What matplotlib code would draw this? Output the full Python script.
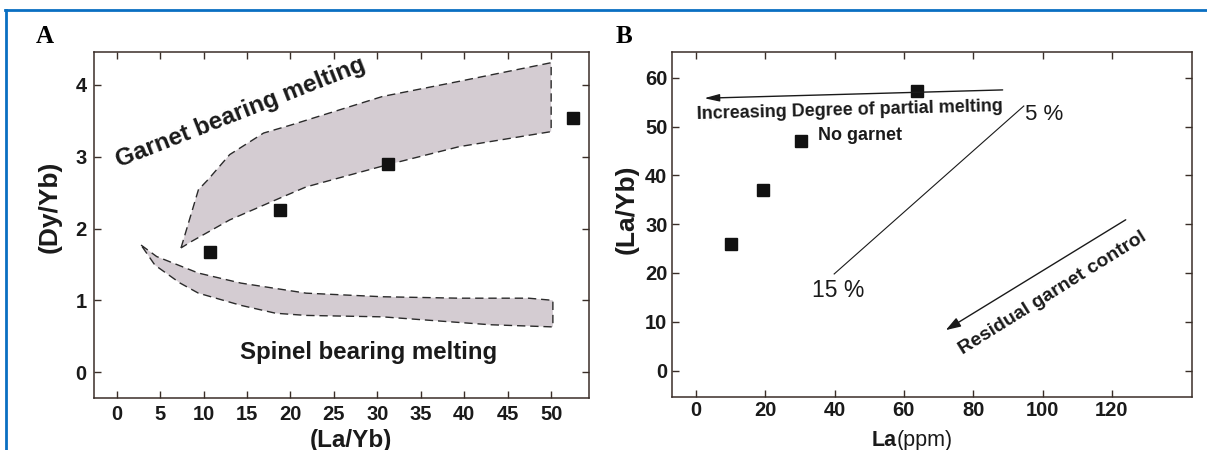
import matplotlib
matplotlib.use("Agg")
import matplotlib.pyplot as plt
import matplotlib.transforms as mtransforms
from matplotlib.lines import Line2D

# ---------------- data ----------------
# Panel A
a_la_yb = [10.7, 18.8, 31.2, 52.5]
a_dy_yb = [1.67, 2.26, 2.90, 3.54]

garnet_upper_x = [7.4, 9.4, 10.5, 13.0, 16.9, 20.0, 30.6, 39.4, 50.0]
garnet_upper_y = [1.73, 2.54, 2.68, 3.03, 3.33, 3.44, 3.84, 4.05, 4.31]
garnet_lower_x = [50.0, 39.4, 31.2, 21.8, 18.7, 13.0, 8.6, 7.4]
garnet_lower_y = [3.35, 3.14, 2.89, 2.58, 2.42, 2.12, 1.82, 1.73]

spinel_upper_x = [2.8, 4.6, 9.4, 14.3, 21.8, 30.6, 39.4, 47.4, 50.2]
spinel_upper_y = [1.77, 1.61, 1.38, 1.24, 1.10, 1.05, 1.03, 1.03, 1.00]
spinel_lower_x = [50.2, 43.0, 30.6, 21.8, 18.3, 14.3, 9.4, 7.3, 4.4, 2.8]
spinel_lower_y = [0.63, 0.66, 0.77, 0.79, 0.82, 0.93, 1.10, 1.24, 1.49, 1.77]

a_xticks = [0, 5, 10, 15, 20, 25, 30, 35, 40, 45, 50]
a_yticks = [0, 1, 2, 3, 4]

# Panel B
b_la = [10.0, 19.4, 30.3, 63.7]
b_la_yb = [25.9, 37.0, 47.1, 57.3]
b_xticks = [0, 20, 40, 60, 80, 100, 120]
b_yticks = [0, 10, 20, 30, 40, 50, 60]

# ---------------- style ----------------
SPINE = "#3a2e28"
FILL = "#d4ccd2"
DASH = "#2b2b2b"
BLUE = "#0a6fc2"
INK = "#1a1a1a"
SANS = "Liberation Sans"
SERIF = "Liberation Serif"

fig = plt.figure(figsize=(12.07, 4.5), dpi=100)
fig.patch.set_facecolor("white")


def style_axes(ax, xticks, yticks, pad):
    for s in ax.spines.values():
        s.set_color(SPINE)
        s.set_linewidth(1.1)
    ax.set_xticks(xticks)
    ax.set_yticks(yticks)
    ax.tick_params(direction="in", length=5, width=1.0, color=SPINE,
                   top=True, right=True, labeltop=False, labelright=False,
                   labelsize=14.5, pad=pad)
    for lab in ax.get_xticklabels() + ax.get_yticklabels():
        lab.set_fontfamily(SANS)
        lab.set_fontweight("bold")
        lab.set_color(INK)


# ---------------- Panel A ----------------
axA = fig.add_axes([0.0777, 0.1156, 0.4106, 0.769])
axA.set_xlim(-2.64, 54.4)
axA.set_ylim(-0.36, 4.46)
style_axes(axA, a_xticks, a_yticks, 5)

gx = garnet_upper_x + garnet_lower_x
gy = garnet_upper_y + garnet_lower_y
axA.fill(gx, gy, facecolor=FILL, edgecolor="none", zorder=1)
axA.plot(gx, gy, color=DASH, lw=1.0, ls=(0, (6, 3.5)), zorder=2)

sx = spinel_upper_x + spinel_lower_x
sy = spinel_upper_y + spinel_lower_y
axA.fill(sx, sy, facecolor=FILL, edgecolor="none", zorder=1)
axA.plot(sx, sy, color=DASH, lw=1.0, ls=(0, (6, 3.5)), zorder=2)

axA.plot(a_la_yb, a_dy_yb, ls="none", marker="s", markersize=8.5,
         color="#111111", zorder=3)

axA.text(14.3, 3.61, "Garnet bearing melting", rotation=21.5,
         rotation_mode="anchor", ha="center", va="center",
         fontsize=17.5, fontweight="bold", family=SANS, color=INK)
axA.text(29.0, 0.28, "Spinel bearing melting", ha="center", va="center",
         fontsize=17.3, fontweight="bold", family=SANS, color=INK)

fig.text(0.0414, 0.54, "(Dy/Yb)", rotation=90, ha="center", va="center",
         fontsize=19, fontweight="bold", family=SANS, color=INK)
bt = mtransforms.blended_transform_factory(axA.transData, fig.transFigure)
axA.text(27.0, 0.0222, "(La/Yb)", transform=bt, ha="center", va="center",
         fontsize=17.5, fontweight="bold", family=SANS, color=INK)

fig.text(0.030, 0.905, "A", ha="left", va="baseline", fontsize=18,
         fontweight="bold", family=SERIF, color="black")

# ---------------- Panel B ----------------
axB = fig.add_axes([0.5564, 0.1178, 0.4314, 0.767])
axB.set_xlim(-7.0, 143.2)
axB.set_ylim(-5.4, 65.3)
style_axes(axB, b_xticks, b_yticks, 3)

axB.plot(b_la, b_la_yb, ls="none", marker="s", markersize=8.5,
         color="#111111", zorder=3)

axB.annotate("", xy=(2.4, 55.8), xytext=(88.5, 57.5),
             arrowprops=dict(arrowstyle="-|>,head_length=0.9,head_width=0.22",
                             lw=1.0, color=INK, shrinkA=0, shrinkB=0))
axB.text(44.4, 53.3, "Increasing Degree of partial melting", rotation=1.5,
         rotation_mode="anchor", ha="center", va="center", fontsize=13,
         fontweight="bold", family=SANS, color=INK)
axB.text(35.2, 48.1, "No garnet", ha="left", va="center", fontsize=13,
         fontweight="bold", family=SANS, color=INK)

axB.plot([39.9, 94.6], [19.8, 54.2], color=INK, lw=0.8)
axB.text(100.4, 52.4, "5 %", ha="center", va="center", fontsize=16,
         family=SANS, color=INK)
axB.text(41.0, 16.5, "15 %", ha="center", va="center", fontsize=16.5,
         family=SANS, color=INK)

axB.annotate("", xy=(72.1, 8.3), xytext=(124.0, 30.9),
             arrowprops=dict(arrowstyle="-|>,head_length=0.9,head_width=0.3",
                             lw=1.0, color=INK, shrinkA=0, shrinkB=0))
axB.text(103.0, 15.9, "Residual garnet control", rotation=32,
         rotation_mode="anchor", ha="center", va="center", fontsize=14,
         fontweight="bold", family=SANS, color=INK)

fig.text(0.5195, 0.5356, "(La/Yb)", rotation=90, ha="center", va="center",
         fontsize=19, fontweight="bold", family=SANS, color=INK)
fig.text(0.7432, 0.0222, "La", ha="right", va="center", fontsize=15.5,
         fontweight="bold", family=SANS, color=INK)
fig.text(0.7432, 0.0222, "(ppm)", ha="left", va="center", fontsize=15.5,
         family=SANS, color=INK)

fig.text(0.510, 0.905, "B", ha="left", va="baseline", fontsize=18,
         fontweight="bold", family=SERIF, color="black")

# ---------------- blue frame ----------------
fig.add_artist(Line2D([0.0045, 1.0], [0.978, 0.978], transform=fig.transFigure,
                      color=BLUE, lw=2.0))
fig.add_artist(Line2D([0.0050, 0.0050], [0.0, 0.978], transform=fig.transFigure,
                      color=BLUE, lw=2.0))

fig.savefig("out.png", dpi=100, facecolor="white")
